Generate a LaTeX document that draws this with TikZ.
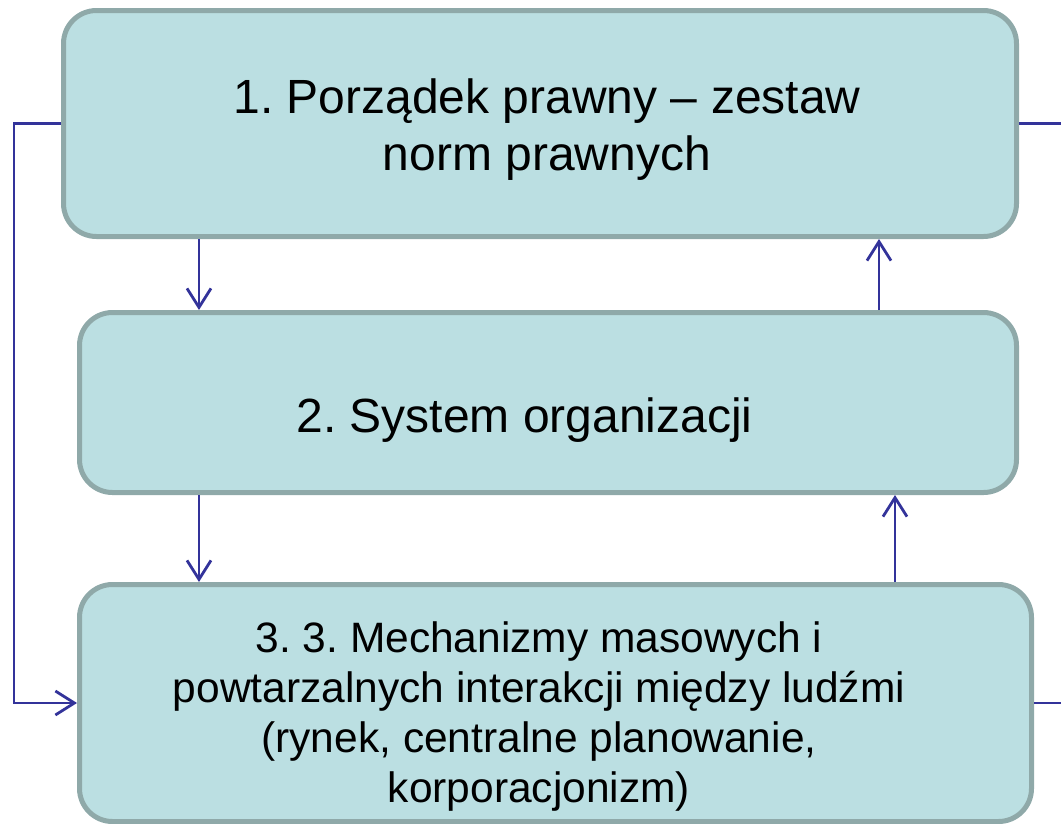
\documentclass[tikz,border=0pt]{standalone}
\usepackage{fontspec}
\setmainfont{Liberation Sans}
\frenchspacing
\usetikzlibrary{arrows.meta}
\definecolor{boxfill}{HTML}{BBDFE2}
\definecolor{boxline}{HTML}{8FA9A9}
\definecolor{arrowc}{HTML}{33339A}
\begin{document}
\begin{tikzpicture}[x=1pt,y=-1pt,
  box/.style={rectangle,draw=boxline,fill=boxfill,line width=5pt,rounded corners=33pt,inner sep=0pt},
  lbl/.style={align=center,inner sep=0pt,anchor=base,text=black},
  bigtext/.style={font=\fontsize{48pt}{57pt}\selectfont},
  smalltext/.style={font=\fontsize{42.5pt}{50pt}\selectfont},
  conn/.style={draw=arrowc,line width=2.8pt,-{Straight Barb[length=19pt,width=24pt]}},
  plainline/.style={draw=arrowc,line width=2.8pt}]
\useasboundingbox (0,0) rectangle (1061,823);
% boxes
\node[box,minimum width=953pt,minimum height=226pt] (b1) at (540,123.5) {};
\node[box,minimum width=937pt,minimum height=180pt] (b2) at (548,402.5) {};
\node[box,minimum width=952pt,minimum height=237pt] (b3) at (555.5,703) {};
% texts (base anchor = baseline of last line)
\node[lbl,bigtext] (t1) at (547,170) {1. Porządek prawny – zestaw\\norm prawnych};
\node[lbl,bigtext] (t2) at (524.5,432) {2. System organizacji};
\node[lbl,smalltext] (t3) at (539,802) {3. 3. Mechanizmy masowych i\\powtarzalnych interakcji między ludźmi\\(rynek, centralne planowanie,\\korporacjonizm)};
% helper coordinates
\coordinate (xa) at (199,0);
\coordinate (xb) at (879,0);
\coordinate (xc) at (895,0);
\coordinate (lx) at (14,0);
\coordinate (rx) at (1066,0);
% connectors
\draw[conn] (b1.south -| xa) -- (b2.north -| xa);
\draw[conn] (b2.south -| xa) -- (b3.north -| xa);
\draw[conn] (b2.north -| xb) -- (b1.south -| xb);
\draw[conn] (b3.north -| xc) -- (b2.south -| xc);
\draw[conn] (b1.west) -- (lx |- b1.west) -- (lx |- b3.west) -- (b3.west);
\draw[plainline] (b1.east) -- (rx |- b1.east);
\draw[plainline] (b3.east) -- (rx |- b3.east);
\end{tikzpicture}
\end{document}
